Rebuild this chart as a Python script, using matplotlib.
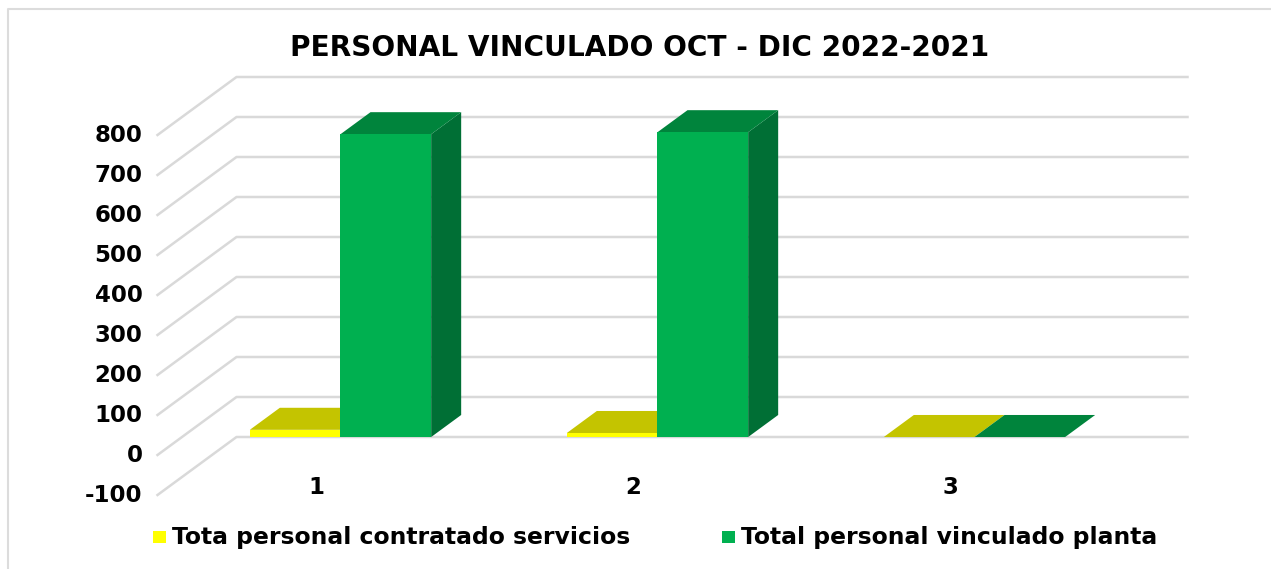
import matplotlib
matplotlib.use("Agg")
from matplotlib import pyplot as plt
from matplotlib.patches import Polygon, Rectangle

titulo = "PERSONAL VINCULADO OCT - DIC 2022-2021"
categorias = ["1", "2", "3"]
marcas_y = [-100, 0, 100, 200, 300, 400, 500, 600, 700, 800]
contratado = [18, 10, 0]
vinculado = [757, 762, 0]
nombre_contratado = "Tota personal contratado servicios"
nombre_vinculado = "Total personal vinculado planta"

W, H = 1271, 569
px_cat = 317.0
px_val = 0.4
x_cero = 316 - px_cat   # pixel de la categoria 0
y_cero = 455            # pixel del valor 0 en el plano frontal

# desplazamiento de profundidad 3D en unidades de datos
fondo_x = 79 / px_cat
fondo_y = 58 / px_val
barra_z0 = 0.31
barra_z1 = 0.69
ancho = 0.286

plt.rcParams["font.family"] = "DejaVu Sans"
fig = plt.figure(figsize=(W / 100, H / 100), dpi=100)
ax = fig.add_axes([0, 0, 1, 1])
ax.set_xlim((0 - x_cero) / px_cat, (W - x_cero) / px_cat)
ax.set_ylim((y_cero - H) / px_val, y_cero / px_val)
ax.axis("off")

# borde del grafico
sx = 1 / px_cat
sy = 1 / px_val
x_izq, x_der = ax.get_xlim()
y_inf, y_sup = ax.get_ylim()
ax.plot([x_izq + 8 * sx, x_izq + 8 * sx, x_der], [y_inf, y_sup - 9 * sy, y_sup - 9 * sy],
        color="#dcdcdc", lw=1.5, zorder=1)

# rejilla: pared del fondo y piso izquierdo
x_ini = 0.5
x_fin = 3.5
gris = "#d9d9d9"
for v in marcas_y:
    ax.plot([x_ini, x_ini + fondo_x, x_fin + fondo_x],
            [v, v + fondo_y, v + fondo_y], color=gris, lw=1.8, zorder=2)
    ax.text(x_ini - 15 * sx, v, str(v), ha="right", va="center",
            fontsize=16.5, fontweight="bold", color="black", zorder=6)


def barra(cat, lado, valor, frente, techo, lateral, orden):
    if lado == 0:
        x0 = cat - ancho
    else:
        x0 = cat
    x1 = x0 + ancho
    dx0, dy0 = barra_z0 * fondo_x, barra_z0 * fondo_y
    dx1, dy1 = barra_z1 * fondo_x, barra_z1 * fondo_y
    # cara lateral
    ax.add_patch(Polygon([(x1 + dx0, dy0), (x1 + dx1, dy1), (x1 + dx1, valor + dy1), (x1 + dx0, valor + dy0)],
                         facecolor=lateral, edgecolor="none", zorder=orden))
    # techo
    ax.add_patch(Polygon([(x0 + dx0, valor + dy0), (x1 + dx0, valor + dy0), (x1 + dx1, valor + dy1), (x0 + dx1, valor + dy1)],
                         facecolor=techo, edgecolor="none", zorder=orden))
    # frente
    ax.add_patch(Rectangle((x0 + dx0, dy0), ancho, valor, facecolor=frente, edgecolor="none", zorder=orden))


for i, cat in enumerate(categorias):
    c = i + 1
    barra(c, 0, contratado[i], "#ffff00", "#c4c400", "#a8a800", 3)
    barra(c, 1, vinculado[i], "#00b050", "#00843c", "#006f35", 4)
    ax.text(c, -32 * sy, cat, ha="center", va="center", fontsize=16.5,
            fontweight="bold", color="black", zorder=6)

# titulo
ax.text((640 - x_cero) / px_cat, (y_cero - 47.5) / px_val, titulo, ha="center", va="center",
        fontsize=20.2, fontweight="bold", color="black")


# leyenda
def leyenda(px, texto, color):
    ax.add_patch(Rectangle(((px - x_cero) / px_cat, (y_cero - 543) / px_val), 13 * sx, 12 * sy,
                           facecolor=color, edgecolor="none", zorder=6))
    ax.text(((px + 19) - x_cero) / px_cat, (y_cero - 537.5) / px_val, texto, ha="left", va="center",
            fontsize=16.9, fontweight="bold", color="black", zorder=6)


leyenda(153, nombre_contratado, "#ffff00")
leyenda(722, nombre_vinculado, "#00b050")

fig.savefig("out.png", dpi=100)
